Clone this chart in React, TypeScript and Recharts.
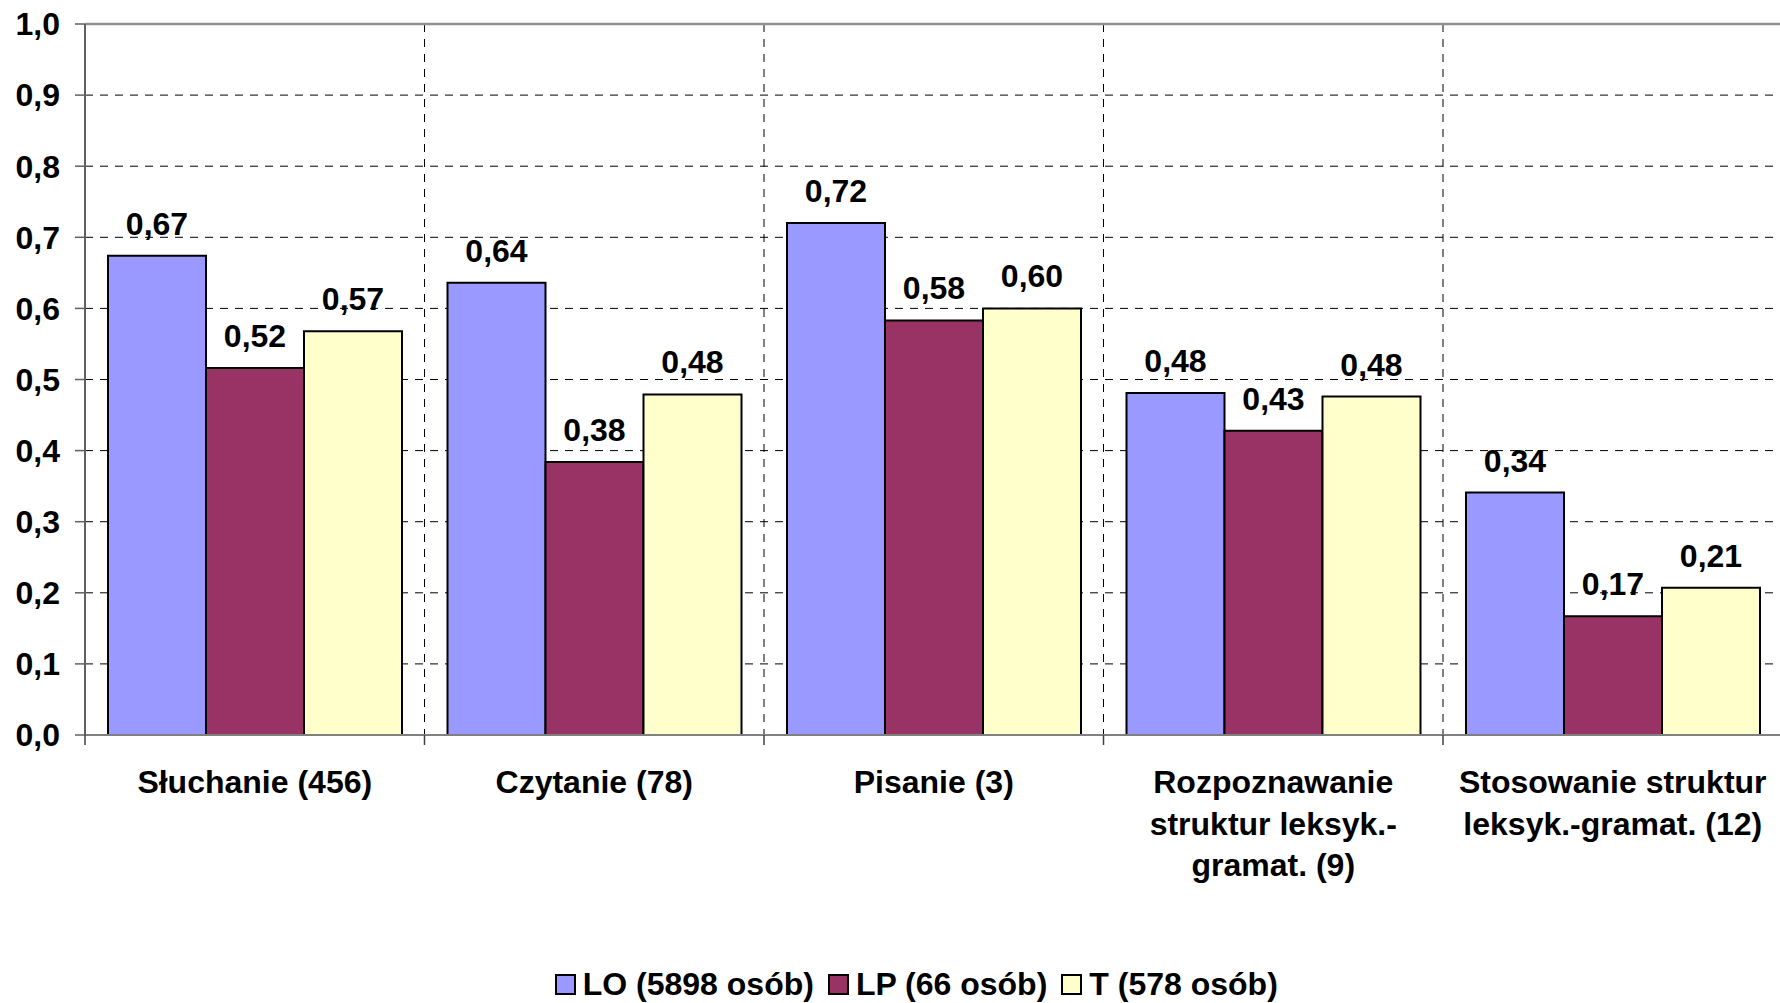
import React from 'react';
import { BarChart, Bar, XAxis, YAxis, CartesianGrid, LabelList, Legend, ReferenceLine } from 'recharts';

const categories = [
  'Słuchanie (456)',
  'Czytanie (78)',
  'Pisanie (3)',
  'Rozpoznawanie\nstruktur leksyk.-\ngramat. (9)',
  'Stosowanie struktur\nleksyk.-gramat. (12)',
];
const seriesNames = ['LO (5898 osób)', 'LP (66 osób)', 'T (578 osób)'];
const loValues = [0.674, 0.636, 0.72, 0.481, 0.341];
const lpValues = [0.516, 0.384, 0.583, 0.428, 0.167];
const tValues = [0.568, 0.479, 0.6, 0.476, 0.207];
const yTicks = [0, 0.1, 0.2, 0.3, 0.4, 0.5, 0.6, 0.7, 0.8, 0.9, 1.0];
const colors = ['#9999FF', '#993366', '#FFFFCC'];

const data = categories.map((name, i) => ({ name, lo: loValues[i], lp: lpValues[i], t: tValues[i] }));

const FONT = '"Liberation Sans", Arial, sans-serif';

const fmt2 = (v: number) => v.toFixed(2).replace('.', ',');
const fmt1 = (v: number) => v.toFixed(1).replace('.', ',');

const CatTick = (props: any) => {
  const { x, y, payload, index, visibleTicksCount, width } = props;
  const band = width && visibleTicksCount ? width / visibleTicksCount : 339.5;
  const lines = String(payload.value).split('\n');
  return (
    <g>
      <line x1={x - band / 2} x2={x - band / 2} y1={y} y2={y + 10} stroke="#404040" strokeWidth={1.5} />
      {index === visibleTicksCount - 1 && (
        <line x1={x + band / 2} x2={x + band / 2} y1={y} y2={y + 10} stroke="#404040" strokeWidth={1.5} />
      )}
      <text x={x} y={y + 58} textAnchor="middle" fontFamily={FONT} fontWeight="bold" fontSize={32} fill="#000">
        {lines.map((l, i) => (
          <tspan key={i} x={x} dy={i === 0 ? 0 : 41.5}>{l}</tspan>
        ))}
      </text>
    </g>
  );
};

const LegendContent = (props: any) => {
  const { payload } = props;
  return (
    <div style={{ display: 'flex', justifyContent: 'center', alignItems: 'center', height: 38, paddingLeft: 50, fontFamily: FONT, fontWeight: 'bold', fontSize: 32, color: '#000' }}>
      {(payload || []).map((p: any, i: number) => (
        <div key={i} style={{ display: 'flex', alignItems: 'center', marginRight: i < 2 ? 14 : 0 }}>
          <div style={{ width: 17, height: 17, background: p.color, border: '2px solid #000', marginRight: 7 }} />
          <span style={{ lineHeight: '38px', whiteSpace: 'nowrap' }}>{p.value}</span>
        </div>
      ))}
    </div>
  );
};

const boundaryLines = ({ offset }: any) =>
  categories.map((_, i) => offset.left + (i * offset.width) / categories.length).concat([offset.left + offset.width]);

export default function App() {
  return (
    <div style={{ position: 'absolute', left: 0, top: 0, width: 1780, height: 1003, overflow: 'hidden', background: '#fff' }}>
      <BarChart
        width={1790}
        height={1003}
        data={data}
        margin={{ top: 24, right: 7.5, bottom: 0, left: 0 }}
        barCategoryGap={23}
        barGap={0}
      >
        <XAxis
          dataKey="name"
          interval={0}
          tick={<CatTick />}
          tickLine={false}
          tickSize={0}
          tickMargin={0}
          axisLine={{ stroke: '#808080', strokeWidth: 2 }}
          height={230}
        />
        <YAxis
          domain={[0, 1]}
          ticks={yTicks}
          tickFormatter={fmt1}
          width={85}
          tickSize={10}
          tickMargin={15}
          tick={{ fontFamily: FONT, fontWeight: 'bold', fontSize: 32, fill: '#000' }}
          tickLine={{ stroke: '#606060', strokeWidth: 1.5 }}
          axisLine={{ stroke: '#606060', strokeWidth: 2 }}
          interval={0}
        />
        <CartesianGrid stroke="#000" strokeDasharray="8 7" strokeWidth={1} verticalCoordinatesGenerator={boundaryLines} />
        <ReferenceLine y={1} stroke="#909090" strokeWidth={2.5} />
        <Legend verticalAlign="bottom" content={<LegendContent />} />
        <Bar dataKey="lo" name={seriesNames[0]} fill={colors[0]} stroke="#000" strokeWidth={2} isAnimationActive={false}>
          <LabelList dataKey="lo" position="top" offset={21} formatter={fmt2} style={{ fontFamily: FONT, fontWeight: 'bold', fontSize: 32, fill: '#000' }} />
        </Bar>
        <Bar dataKey="lp" name={seriesNames[1]} fill={colors[1]} stroke="#000" strokeWidth={2} isAnimationActive={false}>
          <LabelList dataKey="lp" position="top" offset={21} formatter={fmt2} style={{ fontFamily: FONT, fontWeight: 'bold', fontSize: 32, fill: '#000' }} />
        </Bar>
        <Bar dataKey="t" name={seriesNames[2]} fill={colors[2]} stroke="#000" strokeWidth={2} isAnimationActive={false}>
          <LabelList dataKey="t" position="top" offset={21} formatter={fmt2} style={{ fontFamily: FONT, fontWeight: 'bold', fontSize: 32, fill: '#000' }} />
        </Bar>
      </BarChart>
    </div>
  );
}
